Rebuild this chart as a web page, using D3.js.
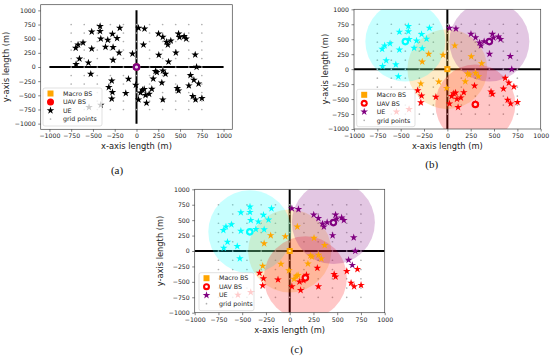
<!DOCTYPE html>
<html>
<head>
<meta charset="utf-8">
<script src="https://cdn.jsdelivr.net/npm/d3@7"></script>
<style>
body{margin:0;background:#fff;}
text{font-family:"DejaVu Sans",sans-serif;}
</style>
</head>
<body>
<div class="fig"></div>
<script>
// tick labels and grid positions
var tickVals = [-1000, -750, -500, -250, 0, 250, 500, 750, 1000];
var gridVals = [-750, -600, -450, -300, -150, 0, 150, 300, 450, 600, 750];

// cluster colours: 0 = macro BS, 1..3 = UAV BS
var clusterColors = ["orange", "cyan", "purple", "red"];

// UE positions (m)
var ueX = [-418,-418,-514,-276,-192,-410,-330,-223,-614,-671,-698,-514,-356,-269,-655,-552,-694,-525,
           -200,-46,-269,80,256,368,-284,-92,-8,218,234,303,333,192,
           23,92,253,302,345,360,394,483,494,547,570,452,674,690,
           46,69,88,23,103,145,176,115,291,302,468,483,601,620,659,713,646,678,751,-318,-276,-284,-123,-410,-545];
var ueY = [718,630,623,582,688,499,476,506,429,393,335,323,353,347,146,76,48,-123,
           253,235,123,393,212,94,-242,-212,-317,-76,-94,-65,-124,-206,
           688,675,587,529,441,393,464,587,524,541,499,253,217,0,
           -453,-406,-394,-576,-499,-476,-388,-635,-277,-576,-376,-417,-329,-147,-229,-294,-517,-576,-553,-358,-446,-559,-464,-670,-711];

// cluster of each UE in (b) and (c)
var clusterB = [1,1,1,1,1,1,1,1,1,1,1,1,1,1,1,1,1,1,
                0,0,0,0,0,0,0,0,0,0,0,0,0,0,
                2,2,2,2,2,2,2,2,2,2,2,2,2,2,
                3,3,3,3,3,3,3,3,3,3,3,3,3,3,3,3,3,3,3,3,3,3,3,3,3];
var clusterC = [1,1,1,1,1,1,1,1,1,1,1,1,1,1,1,1,1,1,
                0,0,0,0,0,0,0,0,0,0,0,0,0,0,
                2,2,2,2,2,2,2,2,2,2,2,2,2,2,
                0,0,0,3,3,3,3,3,3,3,3,3,3,2,2,3,3,3,3,3,3,3,3,3,3];

// UAV BS positions (cyan, red, purple)
var uavAx = [0, 0, 0],        uavAy = [0, 0, 0];
var uavBx = [-450, 300, 450], uavBy = [460, -590, 460];
var uavCx = [-420, 165, 460], uavCy = [310, -435, 460];
var uavCluster = [1, 3, 2];

var svg = d3.select("div.fig").append("svg")
    .attr("width", 550).attr("height", 360);

var panels = [
  {id:"a", left:40.7, right:232.3, top:4.7, bottom:129.3, dom:1100, ylab:34.7,
   ux:uavAx, uy:uavAy, cl:null, r:0, cap:"(a)", capx:117, capy:174,
   leg:{x:43, y:88, w:59, h:38}},
  {id:"b", left:354, right:540.7, top:9.3, bottom:129, dom:1000, ylab:29,
   ux:uavBx, uy:uavBy, cl:clusterB, r:40, cap:"(b)", capx:431.7, capy:168,
   leg:{x:356.7, y:89.3, w:58.3, h:37.4}},
  {id:"c", left:194.7, right:384.7, top:189.3, bottom:312.7, dom:1000, ylab:34.7,
   ux:uavCx, uy:uavCy, cl:clusterC, r:41.5, cap:"(c)", capx:296.7, capy:353,
   leg:{x:199, y:272.7, w:55, h:38}}
];

var star = d3.symbol().type(d3.symbolStar).size(18);

panels.forEach(function(p){
  var x = d3.scaleLinear().domain([-p.dom, p.dom]).range([p.left, p.right]);
  var y = d3.scaleLinear().domain([-p.dom, p.dom]).range([p.bottom, p.top]);
  var g = svg.append("g");

  g.append("clipPath").attr("id", "clip" + p.id)
    .append("rect").attr("x", p.left).attr("y", p.top)
    .attr("width", p.right - p.left).attr("height", p.bottom - p.top);

  var plot = g.append("g").attr("clip-path", "url(#clip" + p.id + ")");

  // thick axes through origin
  plot.append("line").attr("x1", x(-1000)).attr("x2", x(1000))
    .attr("y1", y(0)).attr("y2", y(0)).attr("stroke", "#000").attr("stroke-width", 2);
  plot.append("line").attr("x1", x(0)).attr("x2", x(0))
    .attr("y1", y(-1000)).attr("y2", y(1000)).attr("stroke", "#000").attr("stroke-width", 2);

  // grid points
  var grid = [];
  gridVals.forEach(function(gx){ gridVals.forEach(function(gy){ grid.push([gx, gy]); }); });
  plot.selectAll(".gp").data(grid).enter().append("circle")
    .attr("cx", function(d){ return x(d[0]); })
    .attr("cy", function(d){ return y(d[1]); })
    .attr("r", 0.85).attr("fill", "#b0b0b0");

  // coverage circles
  if (p.cl) {
    var cov = [{x:0, y:0, c:0}];
    p.ux.forEach(function(v, i){ cov.push({x:v, y:p.uy[i], c:uavCluster[i]}); });
    plot.selectAll(".cov").data(cov).enter().append("circle")
      .attr("cx", function(d){ return x(d.x); })
      .attr("cy", function(d){ return y(d.y); })
      .attr("r", p.r)
      .attr("fill", function(d){ return clusterColors[d.c]; })
      .attr("fill-opacity", 0.22);
  }

  // UEs
  plot.selectAll(".ue").data(ueX).enter().append("path")
    .attr("d", star)
    .attr("transform", function(d, i){ return "translate(" + x(d) + "," + y(ueY[i]) + ")"; })
    .attr("fill", function(d, i){ return p.cl ? clusterColors[p.cl[i]] : "#000"; });

  // macro BS
  plot.append("rect").attr("x", x(0) - 3).attr("y", y(0) - 3)
    .attr("width", 6).attr("height", 6).attr("fill", "orange");
  plot.append("rect").attr("x", x(0) - 1).attr("y", y(0) - 1)
    .attr("width", 2).attr("height", 2).attr("fill", "#ffe0a0");

  // UAV BS
  p.ux.forEach(function(v, i){
    plot.append("circle").attr("cx", x(v)).attr("cy", y(p.uy[i])).attr("r", 3.8)
      .attr("fill", clusterColors[uavCluster[i]]);
    plot.append("circle").attr("cx", x(v)).attr("cy", y(p.uy[i])).attr("r", 1.6)
      .attr("fill", "#fff").attr("fill-opacity", 0.85);
  });

  // frame
  g.append("rect").attr("x", p.left).attr("y", p.top)
    .attr("width", p.right - p.left).attr("height", p.bottom - p.top)
    .attr("fill", "none").attr("stroke", "#444").attr("stroke-width", 0.7);

  // axes
  var ax = g.append("g").attr("transform", "translate(0," + p.bottom + ")")
    .call(d3.axisBottom(x).tickValues(tickVals).tickFormat(d3.format("d")).tickSize(2.5).tickPadding(2));
  var ay = g.append("g").attr("transform", "translate(" + p.left + ",0)")
    .call(d3.axisLeft(y).tickValues(tickVals).tickFormat(d3.format("d")).tickSize(2.5).tickPadding(2.5));
  [ax, ay].forEach(function(a){
    a.select(".domain").remove();
    a.selectAll("line").attr("stroke", "#333").attr("stroke-width", 0.6);
    a.selectAll("text").attr("font-size", 6.2).attr("fill", "#222")
      .style("font-family", "DejaVu Sans");
  });

  g.append("text").attr("x", (p.left + p.right) / 2).attr("y", p.bottom + 20)
    .attr("text-anchor", "middle").attr("font-size", 8.3).attr("fill", "#222")
    .text("x-axis length (m)");
  g.append("text")
    .attr("transform", "translate(" + (p.left - p.ylab + 3) + "," + ((p.top + p.bottom) / 2) + ") rotate(-90)")
    .attr("text-anchor", "middle").attr("font-size", 8.3).attr("fill", "#222")
    .text("y-axis length (m)");

  // legend
  var L = p.leg;
  var lg = g.append("g");
  lg.append("rect").attr("x", L.x).attr("y", L.y).attr("width", L.w).attr("height", L.h)
    .attr("rx", 2).attr("fill", "#fff").attr("fill-opacity", 0.8)
    .attr("stroke", "#ccc").attr("stroke-width", 0.6);
  var rows = [5.5, 14, 22.5, 31];
  var mx = L.x + 7.5;
  lg.append("rect").attr("x", mx - 3).attr("y", L.y + rows[0] - 3)
    .attr("width", 6).attr("height", 6).attr("fill", "orange");
  lg.append("circle").attr("cx", mx).attr("cy", L.y + rows[1]).attr("r", 3.5).attr("fill", "red");
  if (p.cl) {
    lg.append("circle").attr("cx", mx).attr("cy", L.y + rows[1]).attr("r", 1.4).attr("fill", "#fff");
  }
  lg.append("path").attr("d", star)
    .attr("transform", "translate(" + mx + "," + (L.y + rows[2]) + ")")
    .attr("fill", p.cl ? "purple" : "#000");
  lg.append("circle").attr("cx", mx).attr("cy", L.y + rows[3]).attr("r", 0.85).attr("fill", "#b0b0b0");
  ["Macro BS", "UAV BS", "UE", "grid points"].forEach(function(t, i){
    lg.append("text").attr("x", L.x + 20).attr("y", L.y + rows[i] + 2.2)
      .attr("font-size", 6.3).attr("fill", "#222").text(t);
  });

  svg.append("text").attr("x", p.capx).attr("y", p.capy)
    .attr("text-anchor", "middle").attr("font-size", 11)
    .style("font-family", "Liberation Serif, serif").attr("fill", "#111")
    .text(p.cap);
});
</script>
</body>
</html>
